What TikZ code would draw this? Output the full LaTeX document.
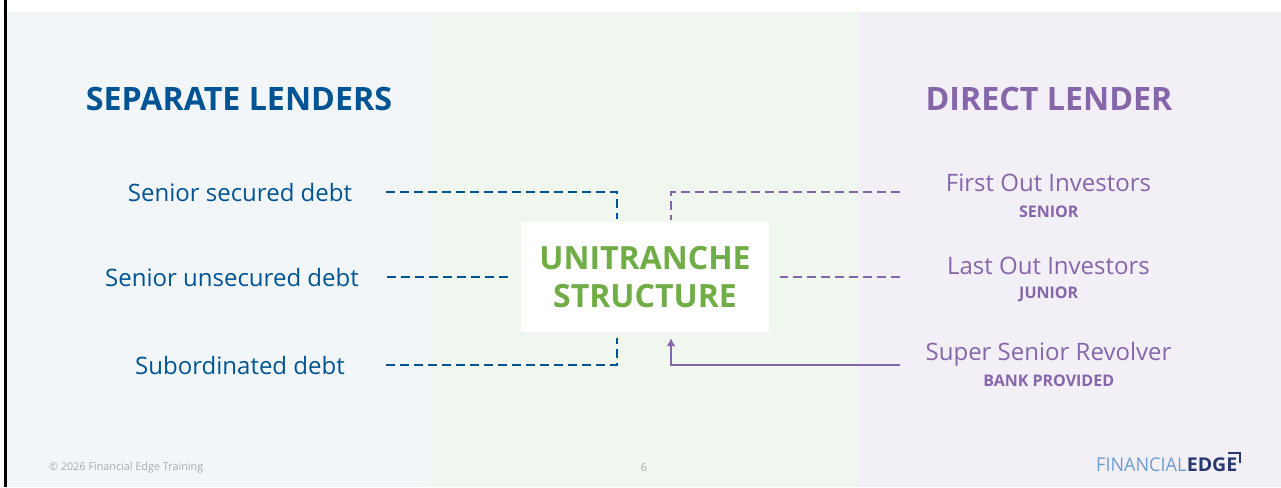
\documentclass[tikz,border=0pt]{standalone}
\usepackage{fontspec}
\setmainfont{Open Sans}
\usetikzlibrary{arrows.meta, positioning}
\definecolor{lenderblue}{RGB}{0, 84, 147}
\definecolor{directpurple}{RGB}{134, 102, 170}
\definecolor{unigreen}{RGB}{112, 173, 71}
\definecolor{panelblue}{RGB}{242, 246, 249}
\definecolor{panelgreen}{RGB}{240, 247, 238}
\definecolor{panelpurple}{RGB}{243, 239, 247}
\definecolor{footgray}{RGB}{170, 172, 175}
\definecolor{logolight}{RGB}{110, 158, 205}
\definecolor{logodark}{RGB}{38, 58, 110}
\tikzset{
    heading/.style={font=\fontsize{32.2}{38}\selectfont\bfseries, inner sep=0pt},
    debtlabel/.style={font=\fontsize{24}{29}\selectfont, text=lenderblue, inner sep=0pt},
    investor/.style={font=\fontsize{24}{29}\selectfont, text=directpurple, inner sep=0pt, minimum width=296pt},
    rank/.style={font=\fontsize{16}{19}\selectfont\bfseries, text=directpurple, inner sep=0pt},
    footer/.style={font=\fontsize{10.8}{13}\selectfont, text=footgray, inner sep=0pt},
    bluelink/.style={lenderblue, line width=2pt, dash pattern=on 9pt off 5pt},
    purplelink/.style={directpurple, line width=2pt, dash pattern=on 9pt off 5pt}
}
\begin{document}
\begin{tikzpicture}[x=1pt, y=-1pt]
    \useasboundingbox (0,0) rectangle (1281,487);
    \fill[white] (0,0) rectangle (1281,487);

    % Background panels
    \fill[panelblue] (7,12) rectangle (431,487);
    \fill[panelgreen] (431,12) rectangle (858,487);
    \fill[panelpurple] (858,12) rectangle (1281,487);
    \fill[black] (4,0) rectangle (7,487);

    % Headings
    \node[heading, text=lenderblue] (sepHead) at (239,99) {SEPARATE LENDERS};
    \node[heading, text=directpurple] (dirHead) at (1049,99) {DIRECT LENDER};

    % Centre box
    \node[fill=white, minimum width=248pt, minimum height=110pt, inner sep=0pt, align=center,
        text=unigreen, font=\fontsize{32}{38}\selectfont\bfseries] (uniBox) at (645,277) {UNITRANCHE\\STRUCTURE};

    % Left labels
    \foreach \name/\y/\w/\xc/\txt in {secDebt/192/292/240/Senior secured debt,
        unsecDebt/277/310/232/Senior unsecured debt, subDebt/365/292/240/Subordinated debt} {
        \node[debtlabel, minimum width=\w pt] (\name) at (\xc,\y) {\txt};
    }

    % Right labels
    \foreach \name/\rname/\y/\ry/\txt/\rtxt in {firstOut/firstRank/183/211.7/First Out Investors/SENIOR,
        lastOut/lastRank/266/294.5/Last Out Investors/JUNIOR,
        superRev/superRank/354/381/Super Senior Revolver/BANK PROVIDED} {
        \node[investor] (\name) at (1048.5,\y) {\txt};
        \node[rank] (\rname) at (1048.7,\ry) {\rtxt};
    }

    % Blue connectors
    \draw[bluelink, shorten >=3pt] (secDebt.east) -| ([xshift=-28pt]uniBox.north);
    \draw[bluelink, shorten >=13pt] (unsecDebt.east) -- (uniBox.west);
    \draw[bluelink, shorten >=6pt] (subDebt.east) -| ([xshift=-28pt]uniBox.south);

    % Purple connectors
    \draw[purplelink, shorten >=2pt] ([yshift=-9pt]firstOut.west) -| ([xshift=26pt]uniBox.north);
    \draw[purplelink, shorten >=11pt] ([yshift=-11pt]lastOut.west) -- (uniBox.east);
    \draw[directpurple, line width=2pt, -{Latex[length=8pt, width=9pt]}, shorten >=6pt]
        ([yshift=-11pt]superRev.west) -| ([xshift=26pt]uniBox.south);

    % Footer
    \node[footer, anchor=west] (copyNote) at (49,467.6) {© 2026 Financial Edge Training};
    \node[footer] (pageNo) at (644,467.6) {6};

    % Logo
    \node[anchor=base west, inner sep=0pt, text=logolight, xscale=0.95,
        font=\fontsize{19}{22}\selectfont] (logoA) at (1096,471) {FINANCIAL};
    \node[anchor=base west, inner sep=0pt, text=logodark, xscale=1.03,
        font=\fontsize{19}{22}\selectfont\bfseries] (logoB) at (logoA.base east) {EDGE};
    \draw[logodark, line width=2pt] (1228,453) -- (1240,453) -- (1240,463);
\end{tikzpicture}
\end{document}
